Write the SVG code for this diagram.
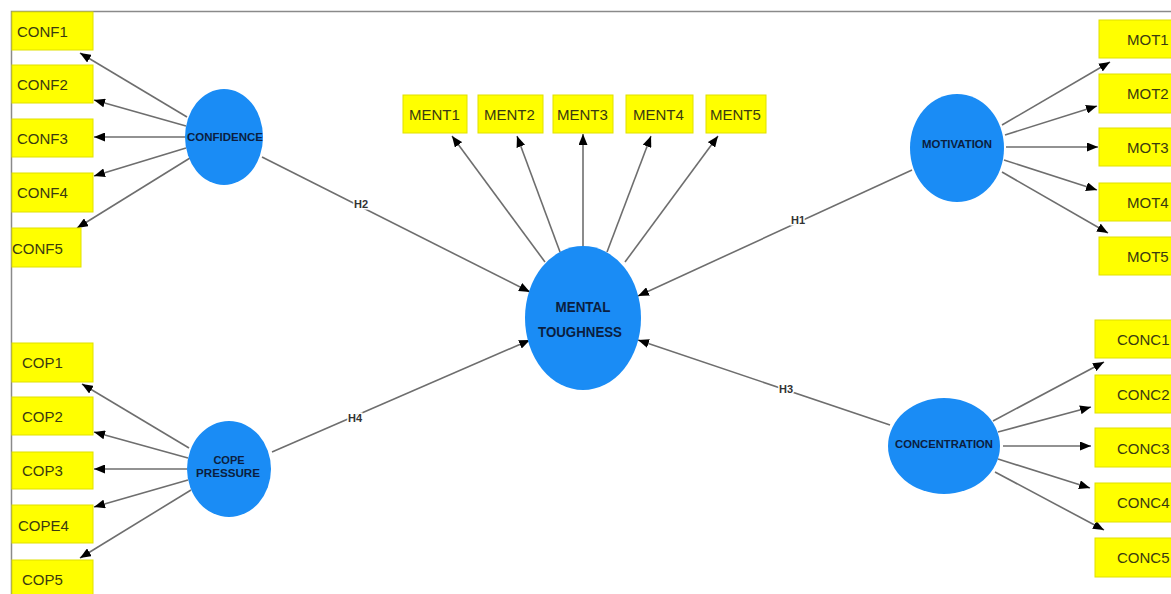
<svg xmlns="http://www.w3.org/2000/svg" width="1171" height="594" viewBox="0 0 1171 594">
<style>
.box{fill:#ffff00;stroke:#e0e000;stroke-width:1}
.bt{font-family:"Liberation Sans",Arial,sans-serif;font-size:15px;fill:#3a3a10}
.lv{fill:#1a8cf5}
.lt{font-family:"Liberation Sans",Arial,sans-serif;font-weight:bold;font-size:11px;fill:#0b1e40;text-anchor:middle}
.mt{font-family:"Liberation Sans",Arial,sans-serif;font-weight:bold;font-size:14px;fill:#0b1e40;text-anchor:middle}
.c line{stroke:#6e6e6e;stroke-width:1.6;marker-end:url(#ah)}
.hl{font-family:"Liberation Sans",Arial,sans-serif;font-weight:bold;font-size:11px;fill:#333;text-anchor:middle;stroke:#fff;stroke-width:3;paint-order:stroke}
</style>
<defs>
<marker id="ah" markerUnits="userSpaceOnUse" markerWidth="11" markerHeight="9" refX="11" refY="4.5" orient="auto"><path d="M0,0 L11,4.5 L0,9 z" fill="#000"/></marker>
</defs>
<rect width="1171" height="594" fill="#fff"/>
<path d="M11.5,594 V11.5 H1171" fill="none" stroke="#8a8a8a" stroke-width="1.5"/>

<g class="c" id="connectors">
<line x1="187" y1="117" x2="80" y2="53"/>
<line x1="186" y1="126" x2="94" y2="100"/>
<line x1="186" y1="137" x2="94" y2="137"/>
<line x1="186" y1="148" x2="94" y2="176"/>
<line x1="190" y1="158" x2="77" y2="228"/>
<line x1="189" y1="448" x2="82" y2="384"/>
<line x1="188" y1="458" x2="94" y2="432"/>
<line x1="187" y1="469" x2="94" y2="469"/>
<line x1="188" y1="480" x2="94" y2="507"/>
<line x1="191" y1="490" x2="80" y2="558"/>
<line x1="1002" y1="125" x2="1110" y2="62"/>
<line x1="1005" y1="135" x2="1097" y2="106"/>
<line x1="1006" y1="147" x2="1098" y2="147"/>
<line x1="1004" y1="160" x2="1097" y2="190"/>
<line x1="1002" y1="172" x2="1108" y2="233"/>
<line x1="993" y1="421" x2="1104" y2="362"/>
<line x1="998" y1="432" x2="1091" y2="407"/>
<line x1="1003" y1="446" x2="1091" y2="446"/>
<line x1="998" y1="459" x2="1090" y2="488"/>
<line x1="995" y1="472" x2="1104" y2="530"/>
<line x1="545" y1="262" x2="452" y2="136"/>
<line x1="560" y1="252" x2="517" y2="136"/>
<line x1="583" y1="247" x2="583" y2="134"/>
<line x1="607" y1="252" x2="651" y2="136"/>
<line x1="625" y1="262" x2="718" y2="136"/>
<line x1="262" y1="157" x2="530" y2="292"/>
<line x1="272" y1="452" x2="530" y2="340"/>
<line x1="912" y1="170" x2="638" y2="296"/>
<line x1="890" y1="425" x2="638" y2="340"/>
</g>
<text class="hl" x="361" y="208">H2</text>
<text class="hl" x="355" y="422">H4</text>
<text class="hl" x="798" y="224">H1</text>
<text class="hl" x="786" y="393">H3</text>

<g id="CONFIDENCE"><ellipse class="lv" cx="224" cy="137" rx="39" ry="48"/><text class="lt" x="225" y="141" textLength="76" lengthAdjust="spacingAndGlyphs">CONFIDENCE</text></g>
<g id="COPE_PRESSURE"><ellipse class="lv" cx="229" cy="469" rx="42" ry="48"/><text class="lt" x="229" y="464">COPE</text><text class="lt" x="228" y="477" textLength="64" lengthAdjust="spacingAndGlyphs">PRESSURE</text></g>
<g id="MOTIVATION"><ellipse class="lv" cx="957" cy="148" rx="47" ry="54"/><text class="lt" x="957" y="148" textLength="70" lengthAdjust="spacingAndGlyphs">MOTIVATION</text></g>
<g id="CONCENTRATION"><ellipse class="lv" cx="944" cy="446" rx="56" ry="48"/><text class="lt" x="944" y="448" textLength="98" lengthAdjust="spacingAndGlyphs">CONCENTRATION</text></g>
<g id="MENTAL_TOUGHNESS"><ellipse class="lv" cx="583" cy="318" rx="58" ry="72"/><text class="mt" x="583" y="312" textLength="55" lengthAdjust="spacingAndGlyphs">MENTAL</text><text class="mt" x="580" y="337" textLength="84" lengthAdjust="spacingAndGlyphs">TOUGHNESS</text></g>

<g id="CONF1"><rect class="box" x="12" y="12" width="81" height="38"/><text class="bt" x="17" y="37">CONF1</text></g>
<g id="CONF2"><rect class="box" x="12" y="65" width="81" height="38"/><text class="bt" x="17" y="90">CONF2</text></g>
<g id="CONF3"><rect class="box" x="12" y="119" width="81" height="38"/><text class="bt" x="17" y="144">CONF3</text></g>
<g id="CONF4"><rect class="box" x="12" y="173" width="81" height="39"/><text class="bt" x="17" y="198">CONF4</text></g>
<g id="CONF5"><rect class="box" x="12" y="228" width="69" height="39"/><text class="bt" x="12" y="254">CONF5</text></g>

<g id="COP1"><rect class="box" x="12" y="343" width="81" height="39"/><text class="bt" x="22" y="368">COP1</text></g>
<g id="COP2"><rect class="box" x="12" y="397" width="81" height="38"/><text class="bt" x="22" y="422">COP2</text></g>
<g id="COP3"><rect class="box" x="12" y="452" width="81" height="37"/><text class="bt" x="22" y="476">COP3</text></g>
<g id="COPE4"><rect class="box" x="12" y="505" width="81" height="38"/><text class="bt" x="18" y="531">COPE4</text></g>
<g id="COP5"><rect class="box" x="12" y="560" width="81" height="40"/><text class="bt" x="22" y="585">COP5</text></g>

<g id="MENT1"><rect class="box" x="403" y="95" width="64" height="38"/><text class="bt" x="409" y="120">MENT1</text></g>
<g id="MENT2"><rect class="box" x="478" y="95" width="65" height="38"/><text class="bt" x="484" y="120">MENT2</text></g>
<g id="MENT3"><rect class="box" x="553" y="95" width="60" height="38"/><text class="bt" x="557" y="120">MENT3</text></g>
<g id="MENT4"><rect class="box" x="626" y="95" width="67" height="38"/><text class="bt" x="633" y="120">MENT4</text></g>
<g id="MENT5"><rect class="box" x="706" y="95" width="60" height="38"/><text class="bt" x="710" y="120">MENT5</text></g>

<g id="MOT1"><rect class="box" x="1099" y="20" width="80" height="38"/><text class="bt" x="1127" y="45">MOT1</text></g>
<g id="MOT2"><rect class="box" x="1099" y="74" width="80" height="39"/><text class="bt" x="1127" y="99">MOT2</text></g>
<g id="MOT3"><rect class="box" x="1099" y="128" width="80" height="38"/><text class="bt" x="1127" y="153">MOT3</text></g>
<g id="MOT4"><rect class="box" x="1099" y="183" width="80" height="38"/><text class="bt" x="1127" y="208">MOT4</text></g>
<g id="MOT5"><rect class="box" x="1099" y="237" width="80" height="38"/><text class="bt" x="1127" y="262">MOT5</text></g>

<g id="CONC1"><rect class="box" x="1095" y="320" width="84" height="38"/><text class="bt" x="1117" y="345">CONC1</text></g>
<g id="CONC2"><rect class="box" x="1095" y="375" width="84" height="38"/><text class="bt" x="1117" y="400">CONC2</text></g>
<g id="CONC3"><rect class="box" x="1095" y="428" width="84" height="39"/><text class="bt" x="1117" y="454">CONC3</text></g>
<g id="CONC4"><rect class="box" x="1095" y="483" width="84" height="39"/><text class="bt" x="1117" y="508">CONC4</text></g>
<g id="CONC5"><rect class="box" x="1095" y="538" width="84" height="39"/><text class="bt" x="1117" y="563">CONC5</text></g>
</svg>
